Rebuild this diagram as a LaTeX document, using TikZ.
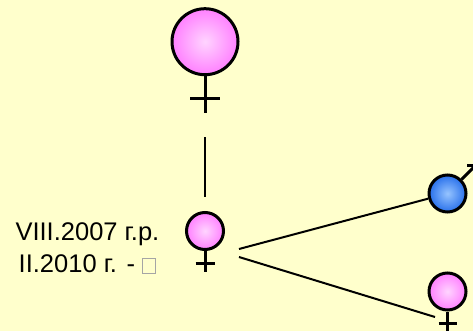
\documentclass[tikz,border=0pt]{standalone}
\usepackage{fontspec}
\setmainfont{Liberation Sans}
\usetikzlibrary{calc}

\definecolor{paper}{RGB}{255,255,204}
\definecolor{pinkedge}{RGB}{255,128,255}
\definecolor{pinkcore}{RGB}{255,212,255}
\definecolor{blueedge}{RGB}{40,112,235}
\definecolor{bluecore}{RGB}{150,196,255}
\definecolor{tofu}{RGB}{165,165,165}

% empty glyph box printed after the dash
\newcommand\tofubox{{\setlength\fboxsep{0pt}\setlength\fboxrule{0.8pt}%
  \fcolorbox{tofu}{paper}{\rule{0pt}{14pt}\rule{12.4pt}{0pt}}}}

\tikzset{
  person/.style={circle, draw=black, line width=3pt, inner sep=0pt, shading=radial},
  female/.style={person, inner color=pinkcore, outer color=pinkedge},
  male/.style={person, inner color=bluecore, outer color=blueedge},
  sign/.style={line width=3pt},
  kin/.style={line width=2pt},
}

\begin{document}
\begin{tikzpicture}[x=1pt,y=-1pt]
\fill[paper] (0,0) rectangle (473,331);
\useasboundingbox (0,0) rectangle (473,331);
\clip (0,0) rectangle (473,331);

% mother
\node[female, minimum size=66pt] (mother) at (205,41.7) {};
\draw[sign] (mother.south) -- ++(0,37) coordinate (mother-foot);
\draw[sign] ($(mother.south)+(-15,22)$) -- ++(30,0);

% daughter
\node[female, minimum size=37pt] (daughter) at (205,231) {};
\draw[sign] (daughter.south) -- ++(0,21);
\draw[sign] ($(daughter.south)+(-9.5,12)$) -- ++(19,0);

% son of the daughter
\node[male, minimum size=37pt] (son) at (447.5,193.5) {};
\draw[sign] (son.north east) -- ++(13.5,-13.5) coordinate (son-tip);
\draw[sign] (son-tip) -- ++(-8,0);
\draw[sign] (son-tip) -- ++(0,8);

% daughter of the daughter
\node[female, minimum size=37pt] (granddaughter) at (447.5,291.5) {};
\draw[sign] (granddaughter.south) -- ++(0,25);
\draw[sign] ($(granddaughter.south)+(-9,12)$) -- ++(18,0);

% kinship lines
\draw[kin, shorten <=24pt, shorten >=14pt] (mother-foot) -- (daughter.north);
\coordinate (fork-up) at (239,249);
\coordinate (fork-down) at (239,257);
\coordinate (granddaughter-reach) at (435,317);
\draw[kin] (fork-up) -- (son);
\draw[kin] (fork-down) -- (granddaughter-reach);

% dates
\node[anchor=north, align=center, inner sep=0pt,
      font=\fontsize{25.5}{32.3}\selectfont] (dates) at (87.4,222.4)
  {VIII.2007 г.р.\\II.2010 г. - \tofubox};
\end{tikzpicture}
\end{document}
